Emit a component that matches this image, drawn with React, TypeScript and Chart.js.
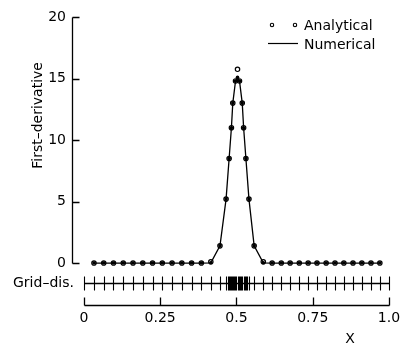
import React, { useEffect, useRef } from "react";
import { Chart, registerables } from "chart.js";

Chart.register(...registerables);

// ---- data ----
const xPoints = [
  0.033, 0.065, 0.097, 0.129, 0.161, 0.193, 0.225, 0.257, 0.289, 0.321, 0.353, 0.385, 0.416,
  0.446, 0.466, 0.476, 0.4835, 0.488, 0.497, 0.5035, 0.51, 0.519, 0.5235, 0.531, 0.541, 0.558,
  0.588, 0.617, 0.647, 0.676, 0.706, 0.735, 0.764, 0.794, 0.823, 0.852, 0.882, 0.911, 0.941, 0.97,
];
const analytical = [
  0, 0, 0, 0, 0, 0, 0, 0, 0, 0, 0, 0, 0.1,
  1.4, 5.2, 8.5, 11.0, 13.0, 14.8, 15.75, 14.8, 13.0, 11.0, 8.5, 5.2, 1.4,
  0.1, 0, 0, 0, 0, 0, 0, 0, 0, 0, 0, 0, 0, 0,
];
const numerical = [
  0, 0, 0, 0, 0, 0, 0, 0, 0, 0, 0, 0, 0.02,
  1.4, 5.2, 8.5, 11.0, 13.0, 14.8, 15.1, 14.8, 13.0, 11.0, 8.5, 5.2, 1.4,
  0.02, 0, 0, 0, 0, 0, 0, 0, 0, 0, 0, 0, 0, 0,
];
const gridPositions = [
  0, 0.033, 0.065, 0.097, 0.129, 0.161, 0.193, 0.225, 0.257, 0.289, 0.321, 0.353, 0.385, 0.416,
  0.446, 0.466, 0.471, 0.476, 0.48, 0.4835, 0.486, 0.488, 0.491, 0.494, 0.497, 0.5, 0.5035,
  0.507, 0.51, 0.513, 0.516, 0.519, 0.5235, 0.527, 0.531, 0.536, 0.541, 0.558,
  0.588, 0.617, 0.647, 0.676, 0.706, 0.735, 0.764, 0.794, 0.823, 0.852, 0.882, 0.911, 0.941, 0.97, 1.0,
];
const xTickValues = [0, 0.25, 0.5, 0.75, 1.0];
const xTickLabels = ["0", "0.25", "0.5", "0.75", "1.0"];
const yTickValues = [0, 5, 10, 15, 20];
const yTickLabels = ["0", "5", "10", "15", "20"];
const yTitle = "First\u2013derivative";
const xTitle = "X";
const gridLabel = "Grid\u2013dis.";
const legendLabels = ["Analytical", "Numerical"];

const FONT = "'DejaVu Sans', sans-serif";
const INK = "#000";

const overlay = {
  id: "overlay",
  afterDraw(chart: any) {
    const ctx = chart.ctx as CanvasRenderingContext2D;
    const xs = chart.scales.x;
    const ys = chart.scales.y;
    const area = chart.chartArea;
    const r = (v: number) => Math.round(v) + 0.5;
    ctx.save();
    ctx.strokeStyle = INK;
    ctx.lineWidth = 1.3;

    // y axis with inward ticks
    const ax = r(area.left);
    ctx.beginPath();
    ctx.moveTo(ax, r(ys.getPixelForValue(0)));
    ctx.lineTo(ax, r(ys.getPixelForValue(20)));
    yTickValues.forEach((v) => {
      const py = r(ys.getPixelForValue(v));
      ctx.moveTo(ax, py);
      ctx.lineTo(ax + 7, py);
    });
    ctx.stroke();

    // x axis with upward ticks
    const by = r(area.bottom);
    ctx.beginPath();
    ctx.moveTo(r(xs.getPixelForValue(0)), by);
    ctx.lineTo(r(xs.getPixelForValue(1)), by);
    xTickValues.forEach((v) => {
      const px = r(xs.getPixelForValue(v));
      ctx.moveTo(px, by);
      ctx.lineTo(px, by - 8);
    });
    ctx.stroke();

    // grid distribution row
    const gy = r(ys.getPixelForValue(-1.63));
    ctx.beginPath();
    ctx.moveTo(r(xs.getPixelForValue(0)), gy);
    ctx.lineTo(r(xs.getPixelForValue(1)), gy);
    ctx.stroke();
    ctx.lineWidth = 1.1;
    ctx.beginPath();
    gridPositions.forEach((v) => {
      const px = r(xs.getPixelForValue(v));
      ctx.moveTo(px, gy - 7);
      ctx.lineTo(px, gy + 7);
    });
    ctx.stroke();

    ctx.fillStyle = INK;
    ctx.font = `14px ${FONT}`;
    // grid label
    ctx.textAlign = "right";
    ctx.textBaseline = "middle";
    ctx.fillText(gridLabel, xs.getPixelForValue(0) - 10, gy);

    // x title
    ctx.textAlign = "center";
    ctx.fillText(xTitle, xs.getPixelForValue(0.872), area.bottom + 34);

    // y title
    ctx.save();
    ctx.translate(38, ys.getPixelForValue(12));
    ctx.rotate(-Math.PI / 2);
    ctx.textAlign = "center";
    ctx.textBaseline = "middle";
    ctx.fillText(yTitle, 0, 0);
    ctx.restore();

    // legend
    ctx.textAlign = "left";
    ctx.textBaseline = "alphabetic";
    ctx.lineWidth = 1.1;
    [272, 295].forEach((cx) => {
      ctx.beginPath();
      ctx.arc(cx, 25, 1.7, 0, Math.PI * 2);
      ctx.stroke();
    });
    ctx.fillText(legendLabels[0], 304, 29.5);
    ctx.lineWidth = 1.2;
    ctx.beginPath();
    ctx.moveTo(268, 43.5);
    ctx.lineTo(298, 43.5);
    ctx.stroke();
    ctx.fillText(legendLabels[1], 304, 48.5);

    ctx.restore();
  },
};

export default function App() {
  const ref = useRef<HTMLCanvasElement>(null);
  useEffect(() => {
    const canvas = ref.current!;
    const chart = new Chart(canvas, {
      type: "scatter",
      data: {
        datasets: [
          {
            label: legendLabels[1],
            data: xPoints.map((x, i) => ({ x, y: numerical[i] })),
            showLine: true,
            borderColor: INK,
            borderWidth: 1.3,
            pointRadius: 1.8,
            pointBorderWidth: 0,
            pointBackgroundColor: INK,
            tension: 0,
          },
          {
            label: legendLabels[0],
            data: xPoints.map((x, i) => ({ x, y: analytical[i] })),
            showLine: false,
            pointRadius: 2.2,
            pointBorderWidth: 1.2,
            pointBorderColor: INK,
            pointBackgroundColor: "#fff",
          },
        ],
      },
      options: {
        responsive: false,
        animation: false,
        layout: { padding: { top: 17, right: 12, bottom: 0, left: 0 } },
        plugins: { legend: { display: false }, tooltip: { enabled: false } },
        scales: {
          x: {
            type: "linear",
            min: -0.039,
            max: 1.0,
            afterBuildTicks: (s: any) => {
              s.ticks = xTickValues.map((v) => ({ value: v }));
            },
            afterFit: (s: any) => {
              s.height = 41;
              s.paddingLeft = 0;
              s.paddingRight = 0;
            },
            grid: { display: false, drawTicks: false },
            border: { display: false },
            ticks: {
              autoSkip: false,
              maxRotation: 0,
              padding: 5,
              color: INK,
              font: { family: FONT, size: 14 },
              callback: (_v: any, i: number) => xTickLabels[i],
            },
          },
          y: {
            type: "linear",
            min: -3.41,
            max: 20,
            afterBuildTicks: (s: any) => {
              s.ticks = yTickValues.map((v) => ({ value: v }));
            },
            afterFit: (s: any) => {
              s.width = 72;
            },
            grid: { display: false, drawTicks: false },
            border: { display: false },
            ticks: {
              autoSkip: false,
              padding: 6,
              color: INK,
              font: { family: FONT, size: 14 },
              callback: (_v: any, i: number) => yTickLabels[i],
            },
          },
        },
      },
      plugins: [overlay],
    });
    return () => chart.destroy();
  }, []);
  return (
    <div style={{ position: "fixed", left: 0, top: 0, width: 401, height: 346, background: "#fff" }}>
      <canvas ref={ref} width={401} height={346} style={{ width: 401, height: 346 }} />
    </div>
  );
}
